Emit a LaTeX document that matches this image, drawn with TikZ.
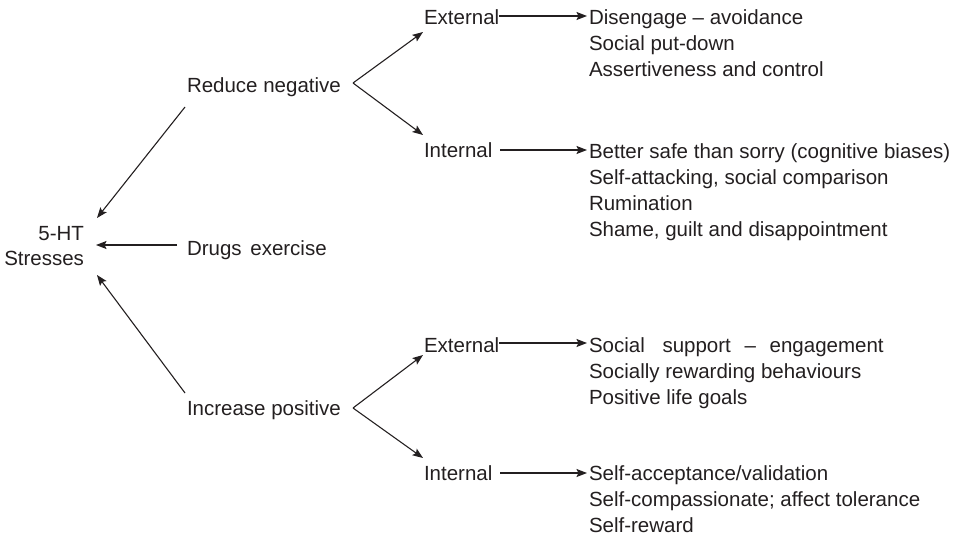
\documentclass[tikz,border=0pt]{standalone}
\usepackage{fontspec}
\setmainfont{Liberation Sans}
\usetikzlibrary{arrows.meta}
\definecolor{ink}{HTML}{231F20}
\begin{document}
\begin{tikzpicture}[x=1pt,y=-1pt,
  every node/.style={inner sep=0pt,outer sep=0pt,text=ink,
    font=\fontsize{20.5}{26}\selectfont},
  lbl/.style={anchor=base west},
  % multi-line nodes sit on the baseline of their last line
  lst/.style={anchor=base west,align=left},
  conn/.style={draw=ink,line width=1.1pt,-{Stealth[length=10.5pt,width=8pt,inset=2pt]}}]
\useasboundingbox (0,0) rectangle (955,538);

% root
\node[anchor=base east,align=right,font=\fontsize{20.5}{25}\selectfont] (root) at (84,265) {5-HT\\Stresses};

% middle column
\node[lbl] (reduce) at (187,92) {Reduce negative};
\node[lbl] (drugs) at (187,255) {Drugs\hspace{3pt} exercise};
\node[lbl] (increase) at (187,415) {Increase positive};

% third column
\node[lbl] (extA) at (424,24) {External};
\node[lbl] (intA) at (424,157) {Internal};
\node[lbl] (extB) at (424,352) {External};
\node[lbl] (intB) at (424,480) {Internal};

% lists
\node[lst] (listA) at (589,76) {Disengage -- avoidance\\Social put-down\\Assertiveness and control};
\node[lst] (listB) at (589,236) {Better safe than sorry (cognitive biases)\\Self-attacking, social comparison\\Rumination\\Shame, guilt and disappointment};
\node[lst] (listC) at (589,404) {Social\hspace{12pt} support\hspace{8pt} --\hspace{8pt} engagement\\Socially rewarding behaviours\\Positive life goals};
\node[lst] (listD) at (589,532) {Self-acceptance/validation\\Self-compassionate; affect tolerance\\Self-reward};

% connector end points
\coordinate (rootN) at (97,218);
\coordinate (rootE) at (96,245);
\coordinate (rootS) at (97,275);
\coordinate (reduceFoot) at (185,107);
\coordinate (drugsTail) at (177,245);
\coordinate (increaseFoot) at (185,393);
\coordinate (forkA) at (353,83);
\coordinate (forkB) at (353,408);
\coordinate (extAIn) at (423,32);
\coordinate (intAIn) at (423,135);
\coordinate (extBIn) at (423,355);
\coordinate (intBIn) at (423,458);
\coordinate (extAOut) at (499,16);
\coordinate (intAOut) at (500,150);
\coordinate (extBOut) at (499,343);
\coordinate (intBOut) at (500,473);
\coordinate (listAIn) at (587,16);
\coordinate (listBIn) at (587,150);
\coordinate (listCIn) at (587,343);
\coordinate (listDIn) at (587,473);

% arrows into the root
\draw[conn] (reduceFoot) -- (rootN);
\draw[conn] (drugsTail) -- (rootE);
\draw[conn] (increaseFoot) -- (rootS);

% forks
\draw[conn] (forkA) -- (extAIn);
\draw[conn] (forkA) -- (intAIn);
\draw[conn] (forkB) -- (extBIn);
\draw[conn] (forkB) -- (intBIn);

% arrows to the lists
\draw[conn] (extAOut) -- (listAIn);
\draw[conn] (intAOut) -- (listBIn);
\draw[conn] (extBOut) -- (listCIn);
\draw[conn] (intBOut) -- (listDIn);
\end{tikzpicture}
\end{document}
